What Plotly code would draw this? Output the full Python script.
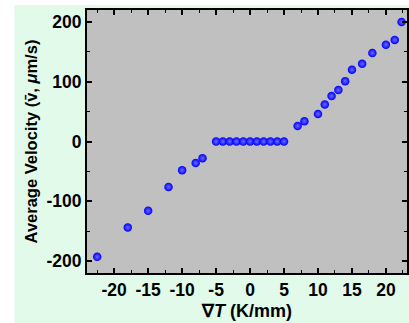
import plotly.graph_objects as go

grad_T = [-22.5, -18, -15, -12, -10, -8, -7,
          -5, -4, -3, -2, -1, 0, 1, 2, 3, 4, 5,
          7, 8, 10, 11, 12, 13, 14, 15, 16.5, 18, 20, 21.3, 22.3]
velocity = [-193, -144, -116, -76, -48, -36, -28,
            0, 0, 0, 0, 0, 0, 0, 0, 0, 0, 0,
            26, 34, 46, 62, 76, 86, 101, 120, 130, 148, 162, 170, 200]

x_ticks = [-20, -15, -10, -5, 0, 5, 10, 15, 20]
x_tick_text = ["-20", "-15", "-10", "-5", "0", "5", "10", "15", "20"]
y_ticks = [-200, -100, 0, 100, 200]
y_tick_text = ["-200", "-100", "0", "100", "200"]

FONT = "Liberation Sans, Arial, sans-serif"
MINT = "#E2FAEA"

fig = go.Figure()
fig.add_trace(go.Scatter(
    x=grad_T, y=velocity, mode="markers",
    marker=dict(size=8.5, color="#0000FF", line=dict(width=0),
                gradient=dict(type="radial", color="#6A6AFF")),
    showlegend=False,
))

axis_common = dict(
    showline=True, linecolor="black", linewidth=2, mirror="allticks",
    ticks="inside", ticklen=5, tickwidth=1.5, tickcolor="black",
    showgrid=False, zeroline=False,
    tickfont=dict(family=FONT, size=17.5, color="black", weight="bold"),
)

fig.update_xaxes(
    range=[-24, 23.1], tickvals=x_ticks, ticktext=x_tick_text,
    minor=dict(dtick=2.5, tick0=0, ticks="inside", ticklen=3, tickwidth=1.2, tickcolor="black"),
    title=dict(text="∇<i>T</i> (K/mm)", standoff=5,
               font=dict(family=FONT, size=18, color="black", weight="bold")),
    **axis_common,
)
fig.update_yaxes(
    range=[-220, 220], tickvals=y_ticks, ticktext=y_tick_text,
    minor=dict(dtick=50, tick0=0, ticks="inside", ticklen=3, tickwidth=1.2, tickcolor="black"),
    title=dict(text="Average Velocity (v̄, <i>μ</i>m/s)", standoff=5,
               font=dict(family=FONT, size=16.5, color="black", weight="bold")),
    **axis_common,
)

# white strips outside the mint panel
fig.add_shape(type="rect", xref="paper", yref="paper", x0=-0.4, x1=(14 - 87) / 322,
              y0=-0.3, y1=1.1, fillcolor="white", line=dict(width=0), layer="below")
fig.add_shape(type="rect", xref="paper", yref="paper", x0=-0.4, x1=1.1,
              y0=(273 - 5) / 263, y1=1.1, fillcolor="white", line=dict(width=0), layer="below")

fig.update_layout(
    width=409, height=323,
    margin=dict(l=87, r=0, t=10, b=50),
    paper_bgcolor=MINT, plot_bgcolor="#C0C0C0",
    font=dict(family=FONT, color="black"),
)

fig.write_html("out.html")
